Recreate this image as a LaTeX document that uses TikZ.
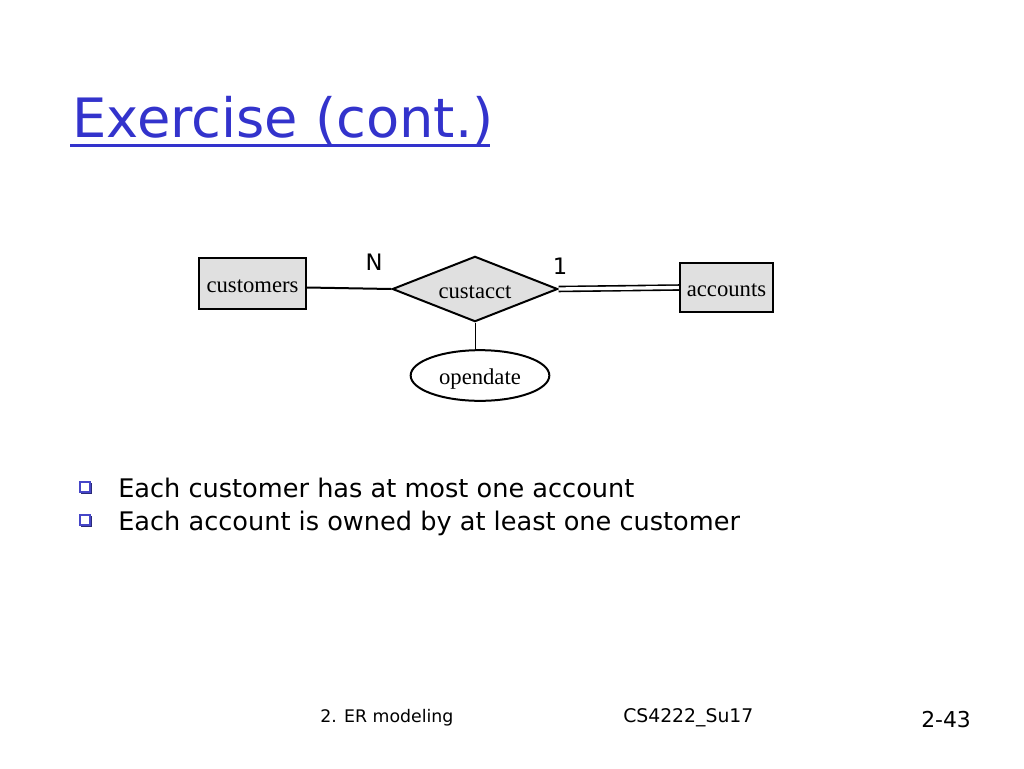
\documentclass[tikz,border=0pt]{standalone}
\usepackage{fontspec}
\setmainfont{DejaVu Sans}
\newfontfamily\erfont{Liberation Serif}
\usetikzlibrary{shapes.geometric}
\definecolor{titleblue}{RGB}{51,51,204}
\definecolor{boxgrey}{RGB}{224,224,224}
\definecolor{bulletblue}{RGB}{70,70,200}
\tikzset{
  erlabel/.style={font=\erfont\fontsize{17}{17}\selectfont, inner sep=0pt, text height=14pt, text depth=0pt},
  entity/.style={erlabel, draw, line width=1.5pt, fill=boxgrey},
  rel/.style={erlabel, draw, line width=1.5pt, fill=boxgrey, diamond, aspect=2.5, minimum width=124pt, minimum height=49pt},
  attr/.style={erlabel, draw, line width=1.5pt, ellipse, minimum width=104pt, minimum height=38pt},
  card/.style={font=\fontsize{17}{17}\selectfont},
  bullettxt/.style={anchor=base west, font=\fontsize{19.2}{19.2}\selectfont, inner sep=0pt},
  foot/.style={anchor=base west, inner sep=0pt},
}
\begin{document}
\begin{tikzpicture}[x=0.75pt, y=-0.75pt]
\useasboundingbox (0,0) rectangle (1024,768);
% title
\node[anchor=base west, inner sep=0pt, text=titleblue, font=\fontsize{40.7}{40.7}\selectfont] (title) at (72,137) {Exercise (cont.)};
\draw[titleblue, line width=2.2pt] (70,145.5) -- (490,145.5);
% ER diagram
\node[entity, minimum width=80pt, minimum height=38pt] (cust) at (252.5,283.5) {customers};
\node[rel] (ca) at (475,289) {custacct};
\node[entity, minimum width=70pt, minimum height=37pt] (acc) at (726.5,287.5) {accounts};
\node[attr] (od) at (480,375.5) {opendate};
\draw[line width=1.5pt] (cust.east) ++(0,4) -- (ca.west);
\draw[line width=1.2pt, double distance=2.5pt] (ca.east) -- (acc.west);
\draw[line width=0.6pt] (ca.south) -- (ca.south |- od.north);
\node[card] (n) at (374,262) {N};
\node[card] (one) at (560,266) {1};
% bullets
\foreach \yy/\nm in {487/b1,520/b2}{
  \coordinate (\nm) at (86,\yy);
  \fill[bulletblue!60!black] (81,\yy-4) rectangle (92,\yy+7);
  \fill[white] (80,\yy-5) rectangle (90,\yy+5);
  \draw[bulletblue, line width=1pt] (80,\yy-5) rectangle (90,\yy+5);
}
\node[bullettxt] (t1) at (118,497) {Each customer has at most one account};
\node[bullettxt] (t2) at (118,530) {Each account is owned by at least one customer};
% footer
\node[foot, font=\fontsize{13}{13}\selectfont] (f1) at (320,722) {2. ER modeling};
\node[foot, font=\fontsize{14.1}{14.1}\selectfont] (f2) at (623,722) {CS4222\_Su17};
\node[foot, font=\fontsize{16.4}{16.4}\selectfont] (f3) at (921,727) {2-43};
\end{tikzpicture}
\end{document}
